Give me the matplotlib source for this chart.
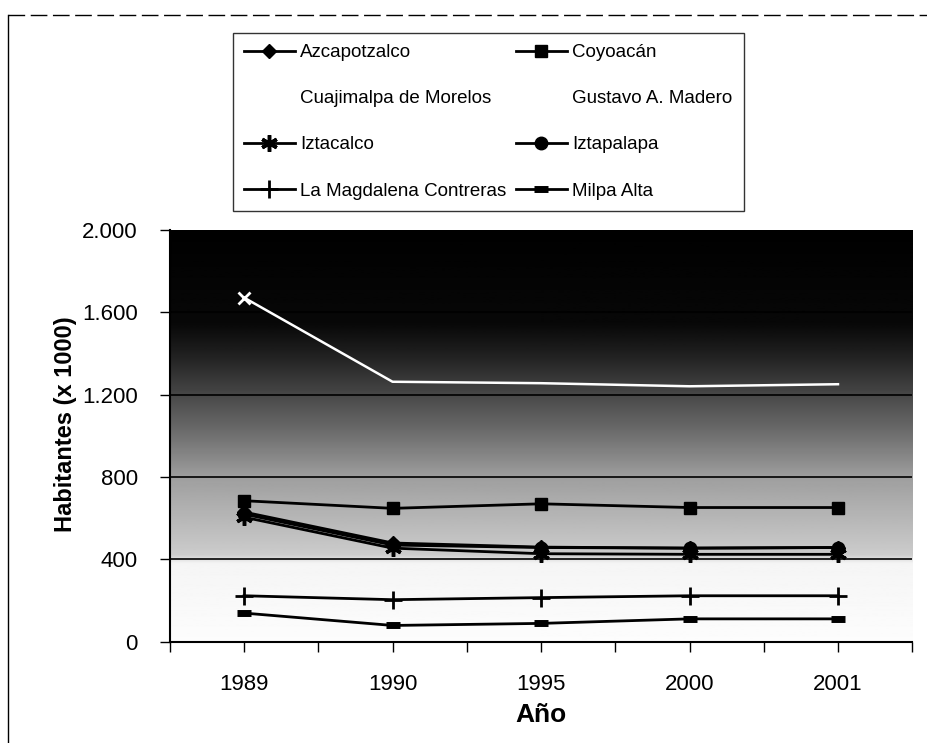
import numpy as np
import matplotlib
matplotlib.use("Agg")
import matplotlib.pyplot as plt
from matplotlib.lines import Line2D

plt.rcParams['font.family'] = ['Liberation Sans', 'DejaVu Sans']

# Data (habitantes x 1000)
years = ["1989", "1990", "1995", "2000", "2001"]
azcapotzalco = [630, 480, 460, 455, 458]
coyoacan = [685, 648, 670, 652, 652]
gustavo_madero = [1670, 1262, 1255, 1240, 1250]
iztacalco = [605, 455, 428, 425, 425]
iztapalapa = [620, 470, 458, 455, 458]
magdalena = [224, 205, 215, 224, 224]
milpa_alta = [140, 80, 90, 112, 112]

x = np.arange(len(years))

fig = plt.figure(figsize=(9.28, 7.43), dpi=100)
ax = fig.add_axes([0.183, 0.136, 0.800, 0.555])

# gradient background: black at top, white near the bottom
levels = np.linspace(0, 2000, 400)
shade = np.interp(levels, [0, 380, 420, 800, 1000, 1200, 1400, 1550, 2000],
                  [0.99, 0.96, 0.80, 0.62, 0.44, 0.28, 0.12, 0.03, 0.0])
ax.imshow(shade[:, None], extent=[-0.5, 4.5, 0, 2000], origin='lower',
          aspect='auto', cmap='gray', vmin=0, vmax=1, zorder=0)

kw = dict(color='black', lw=2, zorder=3)
h_az, = ax.plot(x, azcapotzalco, marker='D', ms=7, label='Azcapotzalco', **kw)
h_co, = ax.plot(x, coyoacan, marker='s', ms=9, label='Coyoacán', **kw)
h_cu, = ax.plot([], [], color='white', lw=0, label='Cuajimalpa de Morelos')
h_gm, = ax.plot(x, gustavo_madero, color='white', lw=1.8, marker='x', ms=8, mew=2,
                markevery=[0], zorder=3, label='Gustavo A. Madero')
h_ic, = ax.plot(x, iztacalco, marker=(6, 2, 0), ms=12, mew=2.5, label='Iztacalco', **kw)
h_ip, = ax.plot(x, iztapalapa, marker='o', ms=9, label='Iztapalapa', **kw)
h_mc, = ax.plot(x, magdalena, marker='+', ms=13, mew=2, label='La Magdalena Contreras', **kw)
h_ma, = ax.plot(x, milpa_alta, marker='_', ms=10, mew=5, label='Milpa Alta', **kw)

ax.set_xlim(-0.5, 4.5)
ax.set_ylim(0, 2000)
ax.set_xticks(x)
ax.set_xticklabels(years, fontsize=16)
ax.set_xticks(np.arange(-0.5, 4.6, 0.5), minor=True)
ax.tick_params(axis='x', which='both', direction='out', length=7, width=1, color='black', pad=16)
ax.set_yticks([0, 400, 800, 1200, 1600, 2000])
ax.set_yticklabels(["0", "400", "800", "1.200", "1.600", "2.000"], fontsize=16)
ax.tick_params(axis='y', direction='out', length=7, width=1, pad=16)
ax.yaxis.grid(True, color='black', lw=1.2, zorder=1)
ax.set_axisbelow(False)
for s in ['top', 'right']:
    ax.spines[s].set_visible(False)
for s in ['left', 'bottom']:
    ax.spines[s].set_linewidth(1.5)

ax.set_ylabel("Habitantes (x 1000)", fontsize=17, fontweight='bold')
ax.yaxis.set_label_coords(-0.125, 0.527)
ax.set_xlabel("Año", fontsize=19, fontweight='bold', labelpad=6)

# legend filled row by row, like the original
handles = [h_az, h_cu, h_ic, h_mc, h_co, h_gm, h_ip, h_ma]
leg = fig.legend(handles=handles, labels=[h.get_label() for h in handles],
                 loc='upper left', bbox_to_anchor=(0.251, 0.956), ncol=2,
                 fontsize=13.5, frameon=True, fancybox=False, edgecolor='black',
                 labelspacing=1.55, handlelength=2.7, handletextpad=0.3,
                 columnspacing=0.5, borderpad=0.6, borderaxespad=0)
leg.get_frame().set_linewidth(1.0)

# scanned page border
fig.add_artist(Line2D([8 / 928, 1.0], [1 - 15 / 743, 1 - 15 / 743], color='black', lw=1,
                      ls=(0, (12, 4)), transform=fig.transFigure))
fig.add_artist(Line2D([8 / 928, 8 / 928], [0.0, 1 - 15 / 743], color='black', lw=1,
                      transform=fig.transFigure))

fig.savefig("out.png", dpi=100)
